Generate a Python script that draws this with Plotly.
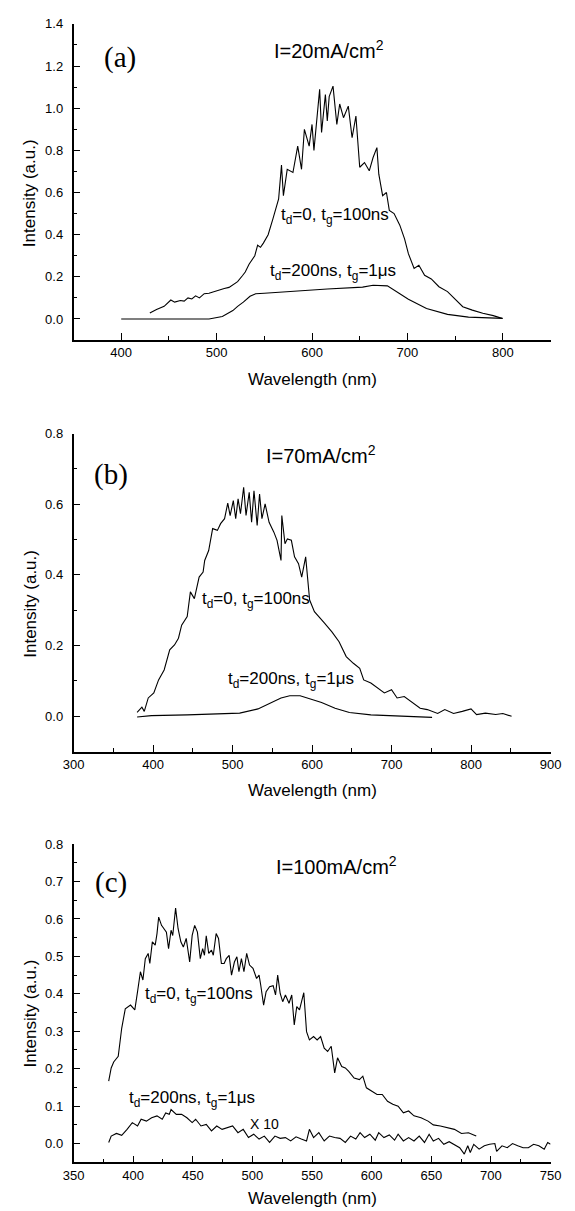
import plotly.graph_objects as go

# ---------------- data ----------------
# Panel (a): I = 20 mA/cm2
a_wl_fast = [430,437,445,452,456,462,466,470,474,478,482,487,492,497,503,508,513,518,522,527,
             530,534,538,540,543,546,549,
             554,559,565,568,570,574,580,585,589,592,597,600,602,608,610,614,616,618,622,626,629,633,638,
             642,646,650,655,660,664,668,670,674,678,681,686,692,697,701,707,712,718,725,733,
             742,749,758,768,779,790,799]
a_int_fast = [0.028,0.045,0.06,0.09,0.08,0.088,0.085,0.1,0.095,0.11,0.1,0.12,0.122,0.13,0.137,0.145,0.15,0.165,0.177,0.205,
              0.223,0.26,0.29,0.30,0.35,0.34,0.36,
              0.40,0.475,0.57,0.73,0.585,0.71,0.695,0.82,0.71,0.90,0.82,0.923,0.80,1.09,0.885,1.065,0.94,1.055,1.105,0.923,1.02,0.955,1.01,
              0.86,0.963,0.72,0.742,0.703,0.766,0.813,0.687,0.585,0.60,0.515,0.50,0.445,0.38,0.31,0.24,0.255,0.207,0.19,0.153,
              0.13,0.098,0.058,0.042,0.027,0.016,0.003]
a_wl_slow = [400,465,492,506,513,517,522,528,535,541,550,580,616,653,664,679,686,701,720,742,764,800]
a_int_slow = [0.0,0.0,0.0,0.012,0.028,0.04,0.06,0.08,0.108,0.12,0.122,0.132,0.142,0.151,0.16,0.157,0.137,0.094,0.05,0.022,0.009,0.003]

# Panel (b): I = 70 mA/cm2
b_wl_fast = [380,386,389,394,401,407,414,418,421,427,432,436,443,447,452,458,463,465,470,475,
             481,485,490,494,497,501,504,507,510,514,517,521,524,527,531,534,537,541,546,552,
             556,561,562,566,569,574,578,583,587,592,595,597,603,609,616,625,634,643,652,660,
             665,674,683,691,700,707,716,725,736,745,758,767,778,789,800,807,818,831,840,851]
b_int_fast = [0.011,0.026,0.014,0.052,0.066,0.103,0.131,0.164,0.188,0.202,0.221,0.258,0.282,0.352,0.333,0.394,0.408,0.441,0.469,0.531,
              0.526,0.545,0.559,0.603,0.568,0.61,0.559,0.615,0.573,0.648,0.568,0.634,0.549,0.638,0.54,0.629,0.559,0.601,0.549,0.521,
              0.498,0.441,0.568,0.488,0.502,0.498,0.451,0.432,0.394,0.451,0.385,0.329,0.296,0.282,0.263,0.239,0.211,0.169,0.15,0.136,
              0.103,0.094,0.08,0.066,0.075,0.052,0.056,0.042,0.023,0.019,0.008,0.019,0.008,0.014,0.021,0.005,0.009,0.005,0.008,0.0]
b_wl_slow = [380,398,443,487,509,532,549,561,572,585,598,612,629,647,674,709,751]
b_int_slow = [-0.002,0.002,0.004,0.006,0.009,0.021,0.038,0.052,0.058,0.058,0.049,0.039,0.023,0.011,0.004,0.0,-0.003]

# Panel (c): I = 100 mA/cm2
c_wl_fast = [379.5,381.6,383.7,387.5,390.4,393.4,397.8,401.4,403.7,406.1,408.2,410.2,412.6,414,416.1,418.5,420,421.4,423.8,425.9,
             427.9,429.7,431.8,433.2,435.6,437.7,440,442.1,444.5,447.4,449.5,451.6,453.9,456.3,458.3,459.8,461.3,463.4,465.7,467.2,
             469.6,471.6,474,476.3,478.1,480.5,482.5,484.9,487,488.7,490.8,492.9,495.2,497.6,500.5,503.5,505.6,507,509.4,511.5,
             514.4,517.4,519.4,521.2,523.3,525.4,527.7,530.7,533,535.1,537.2,539.5,543.1,545.4,547.8,551.3,554.3,557.2,560.2,563.1,
             566.1,569,571.4,574.9,577.9,580.8,585.3,589.7,592.6,595.6,600,604.5,608.9,613.3,617.7,622.2,626.6,631,635.5,641.4,
             647.3,651.7,657.6,663.5,669.4,675.3,681.2,685.6,687.7]
c_int_fast = [0.167,0.202,0.218,0.233,0.308,0.36,0.37,0.357,0.406,0.459,0.437,0.494,0.508,0.481,0.539,0.53,0.561,0.605,0.583,0.574,
              0.565,0.521,0.57,0.556,0.629,0.574,0.539,0.525,0.548,0.485,0.556,0.583,0.565,0.494,0.521,0.503,0.555,0.508,0.517,0.503,
              0.561,0.548,0.481,0.481,0.494,0.503,0.45,0.485,0.499,0.459,0.494,0.459,0.508,0.477,0.468,0.441,0.45,0.423,0.37,0.406,
              0.419,0.422,0.397,0.45,0.401,0.379,0.397,0.375,0.397,0.317,0.366,0.357,0.403,0.299,0.277,0.286,0.277,0.286,0.255,0.246,
              0.26,0.189,0.229,0.206,0.202,0.193,0.175,0.171,0.18,0.149,0.14,0.131,0.131,0.113,0.105,0.1,0.082,0.087,0.074,0.069,
              0.06,0.05,0.047,0.043,0.038,0.027,0.029,0.023,0.02]
c_wl_slow = [379.5,381.6,386,390.4,394.9,399.3,403.7,406.7,411.1,415.5,420,424.4,427.3,430.3,431.8,436.2,440.6,445.1,449.5,452.4,
             456.9,461.3,465.7,470.1,474.6,479,483.4,487.9,492.3,496.7,501.1,505.6,510,514.4,518.9,523.3,527.7,532.1,536.6,541,
             545.4,547.8,551.3,555.7,560.2,564.6,569,573.5,577.9,582.3,586.7,590.3,594.1,598.5,603,605.9,610.3,614.8,619.2,622.2,
             626.6,631,635.5,639.9,644.3,648.2,651.7,656.1,660.5,665,669.4,673.8,677.7,680.6,682.7,685.6,690.1,694.5,698.9,703.3,
             704.8,709.3,713.7,718.1,722.5,727,731.4,735.8,740.2,744.7,747.6,750]
c_int_slow = [0.003,0.02,0.027,0.022,0.038,0.056,0.047,0.065,0.06,0.069,0.074,0.065,0.082,0.078,0.091,0.078,0.078,0.069,0.056,0.065,
              0.047,0.051,0.034,0.047,0.038,0.043,0.047,0.029,0.038,0.016,0.025,0.012,0.02,0.003,0.02,0.014,0.016,0.007,0.018,0.012,
              0.007,0.038,0.016,0.029,0.007,0.02,0.016,0.014,0.003,0.02,0.012,0.029,0.016,0.025,0.009,0.029,0.016,0.023,0.009,0.025,
              0.007,0.016,0.007,0.02,0.003,0.025,0.007,0.014,-0.002,0.005,-0.002,-0.011,-0.028,-0.006,-0.024,-0.002,-0.015,-0.006,-0.002,0.0,
              -0.021,-0.006,-0.011,0.0,-0.006,-0.011,-0.011,-0.002,-0.006,-0.015,0.003,-0.002]

panel_letters = ["(a)", "(b)", "(c)"]
panel_currents = ["I=20mA/cm<sup>2</sup>", "I=70mA/cm<sup>2</sup>", "I=100mA/cm<sup>2</sup>"]
label_fast = "t<sub>d</sub>=0, t<sub>g</sub>=100ns"
label_slow = "t<sub>d</sub>=200ns, t<sub>g</sub>=1\u03bcs"
x_title = "Wavelength (nm)"
y_title = "Intensity (a.u.)"

# ---------------- layout geometry (pixels) ----------------
W, H = 575, 1211
X0, X1 = 65, 561
panel_px = [(17, 335), (429, 749), (842, 1162)]
x_ranges = [[350, 850], [300, 900], [350, 750]]
x_dticks = [100, 100, 50]
y_ranges = [[-0.1, 1.4], [-0.1, 0.8], [-0.05, 0.8]]
y_dticks = [0.2, 0.2, 0.1]
y_tick_top = [1.4, 0.8, 0.8]
xtitle_py = [375, 788, 1198]
ytitle_py = [187, 600, 1012]

FONT = "Liberation Sans, Arial, sans-serif"
SERIF = "Liberation Serif, Times New Roman, serif"

fig = go.Figure()
series = [
    (a_wl_fast, a_int_fast, a_wl_slow, a_int_slow),
    (b_wl_fast, b_int_fast, b_wl_slow, b_int_slow),
    (c_wl_fast, c_int_fast, c_wl_slow, c_int_slow),
]
for i, (xf, yf, xs, ys) in enumerate(series):
    sfx = "" if i == 0 else str(i + 1)
    for xx, yy in ((xf, yf), (xs, ys)):
        fig.add_trace(go.Scatter(x=xx, y=yy, mode="lines", xaxis="x" + sfx, yaxis="y" + sfx,
                                 line=dict(color="black", width=1.1), showlegend=False,
                                 hoverinfo="skip"))

layout = dict(width=W, height=H, margin=dict(l=0, r=0, t=0, b=0),
              paper_bgcolor="white", plot_bgcolor="white", showlegend=False,
              font=dict(family=FONT, color="black"))
for i in range(3):
    sfx = "" if i == 0 else str(i + 1)
    top, bot = panel_px[i]
    n_y = round((y_tick_top[i] - 0.0) / y_dticks[i]) + 1
    yvals = [round(k * y_dticks[i], 3) for k in range(n_y)]
    layout["xaxis" + sfx] = dict(
        domain=[X0 / W, X1 / W], range=x_ranges[i], anchor="y" + sfx,
        showline=True, linecolor="black", linewidth=1.5, mirror=False,
        showgrid=False, zeroline=False,
        ticks="inside", ticklen=7, tickwidth=1.3, tickcolor="black",
        tick0=0, dtick=x_dticks[i],
        minor=dict(ticks="inside", ticklen=4, tickwidth=1.2, tickcolor="black", dtick=x_dticks[i] / 2),
        tickfont=dict(family=FONT, size=13, color="black"), ticklabelstandoff=0,
    )
    layout["yaxis" + sfx] = dict(
        domain=[1 - bot / H, 1 - top / H], range=y_ranges[i], anchor="x" + sfx,
        showline=True, linecolor="black", linewidth=1.5, mirror=False,
        showgrid=False, zeroline=False,
        ticks="inside", ticklen=7, tickwidth=1.3, tickcolor="black",
        tickmode="array", tickvals=yvals, ticktext=["%.1f" % v for v in yvals],
        minor=dict(ticks="inside", ticklen=4, tickwidth=1.2, tickcolor="black",
                   tickmode="array",
                   tickvals=[round((k + 0.5) * y_dticks[i], 3) for k in range(-1, n_y - 1)]),
        tickfont=dict(family=FONT, size=13, color="black"), ticklabelstandoff=6,
    )
fig.update_layout(**layout)

# in-plot labels (data coordinates)
letter_pos = [(399, 1.24), (346.6, 0.685), (381.6, 0.698)]
current_pos = [(618, 1.28), (611.5, 0.742), (570.5, 0.742)]
fast_pos = [(624.5, 0.49), (529.5, 0.329), (455.4, 0.397)]
slow_pos = [(622, 0.223), (574, 0.103), (449.5, 0.118)]

def note(x, y, xref, yref, text, font, angle=0):
    fig.add_annotation(x=x, y=y, xref=xref, yref=yref, text=text, textangle=angle,
                       showarrow=False, xanchor="center", yanchor="middle", font=font)

for i in range(3):
    sfx = "" if i == 0 else str(i + 1)
    xr, yr = "x" + sfx, "y" + sfx
    note(letter_pos[i][0], letter_pos[i][1], xr, yr, panel_letters[i],
         dict(family=SERIF, size=29, color="black"))
    note(current_pos[i][0], current_pos[i][1], xr, yr, panel_currents[i],
         dict(family=FONT, size=20, color="black"))
    note(fast_pos[i][0], fast_pos[i][1], xr, yr, label_fast,
         dict(family=FONT, size=17, color="black"))
    note(slow_pos[i][0], slow_pos[i][1], xr, yr, label_slow,
         dict(family=FONT, size=17, color="black"))
    # axis titles
    note((X0 + X1) / 2 / W, 1 - xtitle_py[i] / H, "paper", "paper", x_title,
         dict(family=FONT, size=17, color="black"))
    note(20 / W, 1 - ytitle_py[i] / H, "paper", "paper", y_title,
         dict(family=FONT, size=17, color="black"), angle=-90)

note(510, 0.053, "x3", "y3", "X 10", dict(family=FONT, size=14, color="black"))

fig.write_html("out.html", config={"displayModeBar": False},
               post_script="document.body.style.margin='0';document.body.style.overflow='hidden';")
